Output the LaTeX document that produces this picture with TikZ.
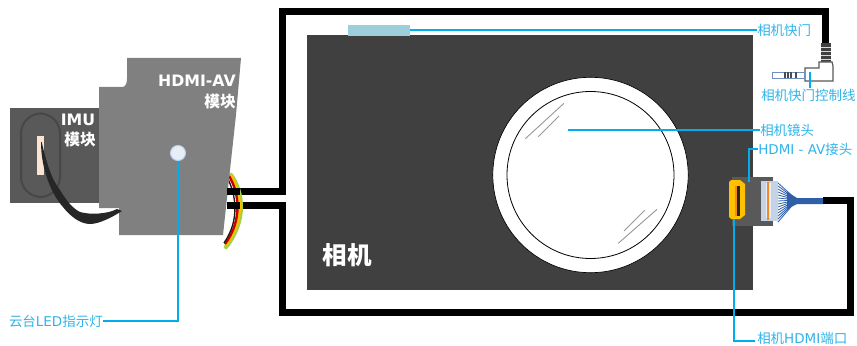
\documentclass[tikz,border=0pt]{standalone}
\usepackage{fontspec}
\setmainfont{DejaVu Sans}
\newfontfamily\cjk{Noto Sans CJK SC}
\definecolor{lblue}{HTML}{00AEEF}
\definecolor{ltext}{HTML}{2FB4EA}
\definecolor{camgray}{HTML}{404040}
\definecolor{imugray}{HTML}{595959}
\definecolor{modgray}{HTML}{808080}
\definecolor{plugblue}{HTML}{C5D3E5}
\definecolor{wireblue}{HTML}{2E5FA8}
\definecolor{yel}{HTML}{FFC000}
\definecolor{org}{HTML}{F08A24}
\definecolor{shutter}{HTML}{9CCFDB}
\definecolor{ledfill}{HTML}{E8EEF6}
\definecolor{ledline}{HTML}{BED2EB}
\definecolor{imuring}{HTML}{474747}
\definecolor{lime}{HTML}{A2D149}
\definecolor{peach}{HTML}{FBE3D2}
\definecolor{ribbon}{HTML}{262626}
\tikzset{
  px/.style={x=0.75pt,y=-0.75pt},
  cable/.style={draw=black,line width=5.25pt,line join=miter},
  leader/.style={draw=lblue,line width=0.95pt},
  lbl/.style={text=ltext,font=\fontsize{10.1pt}{12pt}\selectfont,inner sep=0pt,anchor=west,text height=8.8pt,text depth=0pt},
  whitebold/.style={text=white,font=\bfseries\fontsize{11.8pt}{14pt}\selectfont,inner sep=0pt},
  glint/.style={draw=black!40,line width=0.7pt},
  fanline/.style={draw=wireblue,line width=0.6pt}
}
\begin{document}
\begin{tikzpicture}[px]
\useasboundingbox (0,0) rectangle (857,346);
\fill[white] (0,0) rectangle (857,346);
% camera body
\fill[camgray] (307,35) rectangle (753,290);
\fill[white,draw=black,line width=0.5pt] (590.5,175) circle (97.7);
\draw[black,line width=0.6pt] (590.5,175) circle (83.5);
\draw[glint] (525.3,138.7) -- (564,103.3);
\draw[glint] (538.3,136.7) -- (559,116);
\draw[glint] (618.3,243.3) -- (657,209.3);
\draw[glint] (624,231) -- (644.7,210.3);
\fill[shutter] (348,25) rectangle (410,36);
% cables
\draw[cable] (227,191.5) -- (282.5,191.5) -- (282.5,11.5) -- (825.5,11.5) -- (825.5,44);
\draw[cable] (227,205.5) -- (282.5,205.5) -- (282.5,312.5) -- (850.5,312.5) -- (850.5,200.5) -- (823,200.5);
% wires behind module
\draw[lime,line width=3.2pt,line cap=round] (231,175) .. controls (243,192) and (247,220) .. (226,247);
\draw[yel,line width=2.6pt] (230,175) .. controls (241,192) and (245,220) .. (225.5,245);
\draw[red!80!black,line width=1.8pt] (229,176) .. controls (239,192) and (243,220) .. (225,244);
\draw[black!90,line width=1pt] (227.5,178) .. controls (236,195) and (240,220) .. (224,243);
% IMU
\fill[imugray] (10,108) rectangle (100,203);
\draw[imuring,line width=1.5pt,rounded corners=15] (21,113.5) rectangle (60,197);
\fill[peach] (36.5,136) rectangle (44,175);
% HDMI-AV module
\fill[modgray] (127,58) -- (241,58) -- (236,115) -- (230,170) -- (223,235) -- (119,235) -- (119,208) -- (99,208) -- (99,87) -- (123,87) .. controls (126,86) and (127,83) .. (127,78) -- cycle;
% black ribbon
\fill[ribbon] (41.7,142) .. controls (47,165) and (52,180) .. (60,190) .. controls (66,200) and (72,208) .. (80,212) .. controls (90,215) and (108,214) .. (117,209) -- (122,211) .. controls (114,216) and (100,224) .. (90,224) .. controls (80,224) and (70,216) .. (63,207) .. controls (52,195) and (41,170) .. (41,142) -- cycle;
% redraw cable stubs on top of module
\draw[cable] (227,191.5) -- (240,191.5);
\draw[cable] (227,205.5) -- (240,205.5);
% LED
\fill[ledfill,draw=ledline,line width=0.8pt] (178,153) circle (7.5);
% texts on modules
\node[whitebold] (imu) at (78,120) {IMU};
\node[whitebold] (imumod) at (80,140) {\cjk 模块};
\node[whitebold,anchor=east] (hdmiav) at (236,81) {HDMI-AV};
\node[whitebold,anchor=east] (hdmimod) at (236,102) {\cjk 模块};
\node[text=white,font=\cjk\bfseries\fontsize{18.4pt}{20pt}\selectfont,inner sep=0pt] (cam) at (347.5,255) {相机};
% HDMI connector
\fill[imugray] (732,177) rectangle (773,226);
\foreach \y in {183,186,...,222}{\draw[fanline] (778,\y) -- (797,200);}
\fill[wireblue] (787,192) -- (797,198) -- (823,198) -- (823,204) -- (797,204) -- (787,209) -- cycle;
\fill[plugblue] (761,181) rectangle (778,221);
\fill[white!60!plugblue] (766,183) rectangle (771,218);
\fill[org] (767,182) rectangle (769,220);
\fill[yel] (729,182) -- (731,180) -- (740,180) -- (745,184) -- (745,215) -- (740,219) -- (731,219) -- (729,217) -- cycle;
\fill[org] (735,186) rectangle (737,216);
\fill[black!85] (737,186) rectangle (740,216);
% shutter plug
\fill[black!75] (821,43) rectangle (831,62);
\foreach \y in {47,51,55,59}{\fill[white!85!black] (821,\y) rectangle (831,\y+1.3);}
\fill[white,draw=black!65,line width=0.9pt] (819,62) -- (832,62) -- (833,66) -- (833,81) -- (805,81) -- (805,68) -- (819,68) -- cycle;
\fill[white,draw=wireblue!70,line width=0.6pt] (772,72) rectangle (804,78);
\foreach \x in {785,788,791,796}{\draw[black!70,line width=0.8pt] (\x,72) -- (\x,78);}
% labels
\node[lbl] (lshutter) at (757,30) {\cjk 相机快门};
\node[lbl] (lcable) at (761,95) {\cjk 相机快门控制线};
\node[lbl] (llens) at (760,130) {\cjk 相机镜头};
\node[lbl] (lhdmi) at (758,149) {HDMI - AV{\cjk 接头}};
\node[lbl] (lport) at (757,338) {{\cjk 相机}HDMI{\cjk 端口}};
\node[lbl,anchor=east] (lled) at (103,321) {{\cjk 云台}LED{\cjk 指示灯}};
% leaders
\coordinate (sh) at (410,30);
\coordinate (pl) at (810,72);
\coordinate (pe) at (810,88);
\coordinate (ln) at (568,130);
\coordinate (ha) at (749,182);
\coordinate (pt) at (734,219);
\coordinate (pq) at (755,341);
\coordinate (ld) at (178,161);
\draw[leader] (sh) -- (lshutter.west);
\draw[leader] (pl) -- (pe);
\draw[leader] (ln) -- (llens.west);
\draw[leader] (ha) |- (lhdmi.west);
\draw[leader] (pt) |- (pq);
\draw[leader] (ld) |- (lled.east);
\end{tikzpicture}
\end{document}
